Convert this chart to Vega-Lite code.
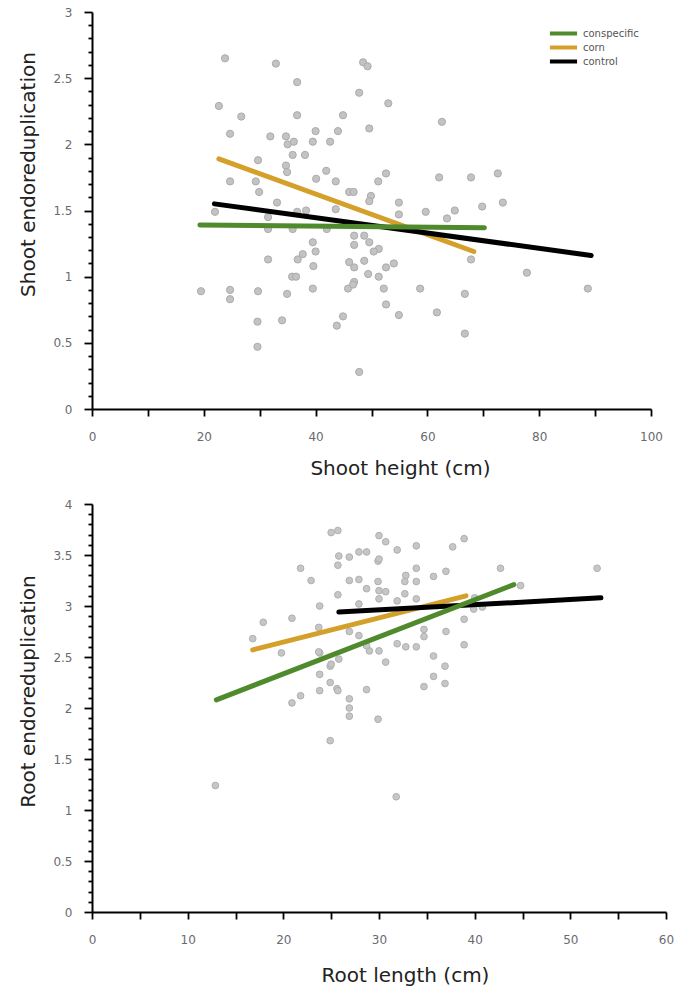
{
  "$schema": "https://vega.github.io/schema/vega-lite/v6.json",
  "padding": {"left": 18, "top": 6, "right": 5, "bottom": 5},
  "background": "white",
  "spacing": 20,
  "config": {
    "view": {"stroke": null},
    "axis": {
      "grid": false,
      "labelFont": "DejaVu Sans",
      "labelFontSize": 12,
      "labelColor": "#6a6a72",
      "titleFont": "DejaVu Sans",
      "titleFontSize": 20,
      "titleFontWeight": "normal",
      "titleColor": "#222222",
      "domainColor": "#000000",
      "domainWidth": 2,
      "tickColor": "#000000",
      "tickWidth": 1.8,
      "labelOverlap": false,
      "labelFlush": false
    }
  },
  "datasets": {
    "shoot_pts": [
      {"height": 23.8, "endo": 2.65}, {"height": 32.9, "endo": 2.61}, {"height": 36.7, "endo": 2.47},
      {"height": 22.7, "endo": 2.29}, {"height": 26.7, "endo": 2.21}, {"height": 36.7, "endo": 2.22},
      {"height": 24.7, "endo": 2.08}, {"height": 31.9, "endo": 2.06}, {"height": 34.7, "endo": 2.06},
      {"height": 35.0, "endo": 2.0}, {"height": 36.1, "endo": 2.02}, {"height": 40.0, "endo": 2.1},
      {"height": 39.5, "endo": 2.02}, {"height": 42.6, "endo": 2.02}, {"height": 44.9, "endo": 2.22},
      {"height": 44.0, "endo": 2.1}, {"height": 38.1, "endo": 1.92}, {"height": 35.9, "endo": 1.92},
      {"height": 29.7, "endo": 1.88}, {"height": 34.7, "endo": 1.84}, {"height": 34.9, "endo": 1.79},
      {"height": 41.9, "endo": 1.8}, {"height": 24.7, "endo": 1.72}, {"height": 29.3, "endo": 1.72},
      {"height": 29.9, "endo": 1.64}, {"height": 40.1, "endo": 1.74}, {"height": 43.6, "endo": 1.72},
      {"height": 33.1, "endo": 1.56}, {"height": 22.0, "endo": 1.49}, {"height": 31.5, "endo": 1.45},
      {"height": 36.7, "endo": 1.49}, {"height": 38.3, "endo": 1.5}, {"height": 43.6, "endo": 1.51},
      {"height": 31.5, "endo": 1.36}, {"height": 35.9, "endo": 1.36}, {"height": 42.0, "endo": 1.36},
      {"height": 39.5, "endo": 1.26}, {"height": 40.0, "endo": 1.19}, {"height": 36.8, "endo": 1.13},
      {"height": 37.7, "endo": 1.17}, {"height": 31.5, "endo": 1.13}, {"height": 39.6, "endo": 1.08},
      {"height": 35.8, "endo": 1.0}, {"height": 36.5, "endo": 1.0}, {"height": 19.5, "endo": 0.89},
      {"height": 24.7, "endo": 0.9}, {"height": 24.7, "endo": 0.83}, {"height": 29.7, "endo": 0.89},
      {"height": 34.9, "endo": 0.87}, {"height": 39.5, "endo": 0.91}, {"height": 29.6, "endo": 0.66},
      {"height": 34.0, "endo": 0.67}, {"height": 43.8, "endo": 0.63}, {"height": 44.9, "endo": 0.7},
      {"height": 29.6, "endo": 0.47}, {"height": 48.5, "endo": 2.62}, {"height": 49.3, "endo": 2.59},
      {"height": 47.8, "endo": 2.39}, {"height": 53.0, "endo": 2.31}, {"height": 49.6, "endo": 2.12},
      {"height": 62.6, "endo": 2.17}, {"height": 52.6, "endo": 1.78}, {"height": 51.2, "endo": 1.72},
      {"height": 62.1, "endo": 1.75}, {"height": 67.8, "endo": 1.75}, {"height": 72.6, "endo": 1.78},
      {"height": 46.0, "endo": 1.64}, {"height": 46.8, "endo": 1.64}, {"height": 49.9, "endo": 1.61},
      {"height": 49.6, "endo": 1.57}, {"height": 54.9, "endo": 1.56}, {"height": 54.9, "endo": 1.47},
      {"height": 59.7, "endo": 1.49}, {"height": 64.9, "endo": 1.5}, {"height": 63.5, "endo": 1.44},
      {"height": 69.8, "endo": 1.53}, {"height": 73.5, "endo": 1.56}, {"height": 46.9, "endo": 1.31},
      {"height": 46.9, "endo": 1.24}, {"height": 48.7, "endo": 1.31}, {"height": 49.6, "endo": 1.26},
      {"height": 51.3, "endo": 1.21}, {"height": 50.4, "endo": 1.19}, {"height": 46.0, "endo": 1.11},
      {"height": 46.9, "endo": 1.07}, {"height": 48.7, "endo": 1.12}, {"height": 52.6, "endo": 1.07},
      {"height": 54.0, "endo": 1.1}, {"height": 49.4, "endo": 1.02}, {"height": 51.3, "endo": 1.0},
      {"height": 46.9, "endo": 0.96}, {"height": 45.8, "endo": 0.91}, {"height": 46.7, "endo": 0.94},
      {"height": 52.2, "endo": 0.91}, {"height": 58.7, "endo": 0.91}, {"height": 67.8, "endo": 1.13},
      {"height": 77.8, "endo": 1.03}, {"height": 88.7, "endo": 0.91}, {"height": 66.7, "endo": 0.87},
      {"height": 52.6, "endo": 0.79}, {"height": 54.9, "endo": 0.71}, {"height": 61.7, "endo": 0.73},
      {"height": 66.7, "endo": 0.57}, {"height": 47.8, "endo": 0.28}
    ],
    "shoot_fit": [
      {"group": "corn", "x": 22.7, "y": 1.89}, {"group": "corn", "x": 68.3, "y": 1.19},
      {"group": "control", "x": 21.9, "y": 1.55}, {"group": "control", "x": 89.3, "y": 1.16},
      {"group": "conspecific", "x": 19.3, "y": 1.39}, {"group": "conspecific", "x": 70.2, "y": 1.37}
    ],
    "root_pts": [
      {"length": 12.9, "endo": 1.24}, {"length": 16.8, "endo": 2.68}, {"length": 17.9, "endo": 2.84},
      {"length": 19.8, "endo": 2.54}, {"length": 20.9, "endo": 2.88}, {"length": 21.8, "endo": 3.37},
      {"length": 22.9, "endo": 3.25}, {"length": 23.8, "endo": 3.0}, {"length": 20.9, "endo": 2.05},
      {"length": 21.8, "endo": 2.12}, {"length": 23.8, "endo": 2.54}, {"length": 23.8, "endo": 2.33},
      {"length": 24.9, "endo": 2.41}, {"length": 23.8, "endo": 2.17}, {"length": 24.9, "endo": 2.25},
      {"length": 24.9, "endo": 1.68}, {"length": 25.0, "endo": 3.72}, {"length": 25.7, "endo": 3.74},
      {"length": 25.8, "endo": 3.49}, {"length": 25.7, "endo": 3.4}, {"length": 26.9, "endo": 3.48},
      {"length": 26.9, "endo": 3.25}, {"length": 25.7, "endo": 3.11}, {"length": 23.7, "endo": 2.79},
      {"length": 25.6, "endo": 2.19}, {"length": 30.0, "endo": 3.69}, {"length": 30.7, "endo": 3.63},
      {"length": 33.9, "endo": 3.59}, {"length": 31.9, "endo": 3.55}, {"length": 37.7, "endo": 3.58},
      {"length": 38.9, "endo": 3.66}, {"length": 27.9, "endo": 3.53}, {"length": 28.7, "endo": 3.53},
      {"length": 29.9, "endo": 3.44}, {"length": 33.9, "endo": 3.37}, {"length": 37.0, "endo": 3.34},
      {"length": 35.7, "endo": 3.29}, {"length": 32.8, "endo": 3.3}, {"length": 32.7, "endo": 3.24},
      {"length": 33.9, "endo": 3.24}, {"length": 27.9, "endo": 3.26}, {"length": 29.9, "endo": 3.24},
      {"length": 28.7, "endo": 3.17}, {"length": 30.0, "endo": 3.15}, {"length": 30.7, "endo": 3.14},
      {"length": 30.0, "endo": 3.07}, {"length": 32.7, "endo": 3.12}, {"length": 33.9, "endo": 3.07},
      {"length": 27.9, "endo": 3.02}, {"length": 31.9, "endo": 3.05}, {"length": 38.9, "endo": 2.87},
      {"length": 37.0, "endo": 2.75}, {"length": 34.7, "endo": 2.77}, {"length": 34.7, "endo": 2.7},
      {"length": 26.9, "endo": 2.75}, {"length": 27.9, "endo": 2.71}, {"length": 31.9, "endo": 2.63},
      {"length": 32.8, "endo": 2.6}, {"length": 33.9, "endo": 2.6}, {"length": 29.0, "endo": 2.56},
      {"length": 30.0, "endo": 2.56}, {"length": 28.7, "endo": 2.61}, {"length": 38.9, "endo": 2.62},
      {"length": 35.7, "endo": 2.51}, {"length": 30.7, "endo": 2.45}, {"length": 25.0, "endo": 2.43},
      {"length": 25.8, "endo": 2.48}, {"length": 36.9, "endo": 2.41}, {"length": 35.7, "endo": 2.31},
      {"length": 34.7, "endo": 2.21}, {"length": 36.9, "endo": 2.24}, {"length": 25.7, "endo": 2.17},
      {"length": 28.7, "endo": 2.18}, {"length": 26.9, "endo": 2.09}, {"length": 26.9, "endo": 2.0},
      {"length": 26.9, "endo": 1.92}, {"length": 29.9, "endo": 1.89}, {"length": 31.8, "endo": 1.13},
      {"length": 42.7, "endo": 3.37}, {"length": 52.8, "endo": 3.37}, {"length": 44.8, "endo": 3.2},
      {"length": 40.8, "endo": 2.99}, {"length": 39.9, "endo": 2.97}, {"length": 23.7, "endo": 2.55},
      {"length": 30.0, "endo": 3.46}, {"length": 40.0, "endo": 3.08}
    ],
    "root_fit": [
      {"group": "corn", "x": 16.8, "y": 2.57}, {"group": "corn", "x": 39.1, "y": 3.1},
      {"group": "control", "x": 25.8, "y": 2.94}, {"group": "control", "x": 53.2, "y": 3.08},
      {"group": "conspecific", "x": 13.0, "y": 2.08}, {"group": "conspecific", "x": 44.1, "y": 3.21}
    ]
  },
  "resolve": {"scale": {"color": "independent"}, "legend": {"color": "independent"}},
  "vconcat": [
    {
      "width": 559,
      "height": 397,
      "encoding": {
        "x": {
          "type": "quantitative", "title": "Shoot height (cm)",
          "scale": {"domain": [0, 100], "nice": false},
          "axis": {
            "values": [0, 10, 20, 30, 40, 50, 60, 70, 80, 90, 100],
            "labelExpr": "datum.value % 20 == 0 ? datum.label : ''",
            "labelOverlap": false,
            "tickSize": 7, "labelPadding": 15, "titlePadding": 16, "titleX": 308
          }
        },
        "y": {
          "type": "quantitative", "title": "Shoot endoreduplication",
          "scale": {"domain": [0, 3], "nice": false},
          "axis": {
            "values": [0, 0.1, 0.2, 0.3, 0.4, 0.5, 0.6, 0.7, 0.8, 0.9, 1, 1.1, 1.2, 1.3, 1.4, 1.5, 1.6, 1.7, 1.8, 1.9, 2, 2.1, 2.2, 2.3, 2.4, 2.5, 2.6, 2.7, 2.8, 2.9, 3],
            "labelExpr": "abs(datum.value*2 - round(datum.value*2)) < 0.01 ? toString(round(datum.value*2)/2) : ''",
            "labelOverlap": false,
            "tickSize": {"condition": {"test": "abs(datum.value*2 - round(datum.value*2)) < 0.01", "value": 8}, "value": 4},
            "labelPadding": 12, "titlePadding": 14, "titleY": 162
          }
        }
      },
      "layer": [
        {
          "data": {"name": "shoot_pts"},
          "mark": {"type": "circle", "size": 52, "color": "#c3c3c3", "opacity": 1, "stroke": "#ababab", "strokeWidth": 1},
          "encoding": {
            "x": {"field": "height"},
            "y": {"field": "endo"}
          }
        },
        {
          "data": {"name": "shoot_fit"},
          "mark": {"type": "line", "strokeWidth": 5, "strokeCap": "round"},
          "encoding": {
            "x": {"field": "x"},
            "y": {"field": "y"},
            "color": {
              "field": "group", "type": "nominal",
              "scale": {"domain": ["conspecific", "corn", "control"], "range": ["#4f8a2c", "#d4a02a", "#000000"]},
              "legend": {
                "orient": "none", "legendX": 466, "legendY": 16, "title": null,
                "symbolType": "M-4,0H4", "symbolStrokeWidth": 4, "symbolSize": 46,
                "labelFont": "DejaVu Sans", "labelFontSize": 10, "labelColor": "#555555",
                "rowPadding": -3, "padding": 0, "labelOffset": 14
              }
            }
          }
        }
      ]
    },
    {
      "width": 574,
      "height": 408,
      "encoding": {
        "x": {
          "type": "quantitative", "title": "Root length  (cm)",
          "scale": {"domain": [0, 60], "nice": false},
          "axis": {
            "values": [0, 5, 10, 15, 20, 25, 30, 35, 40, 45, 50, 55, 60],
            "labelExpr": "datum.value % 10 == 0 ? datum.label : ''",
            "labelOverlap": false,
            "tickSize": 7, "labelPadding": 15, "titlePadding": 20, "titleX": 313
          }
        },
        "y": {
          "type": "quantitative", "title": "Root endoreduplication",
          "scale": {"domain": [0, 4], "nice": false},
          "axis": {
            "values": [0, 0.1, 0.2, 0.3, 0.4, 0.5, 0.6, 0.7, 0.8, 0.9, 1, 1.1, 1.2, 1.3, 1.4, 1.5, 1.6, 1.7, 1.8, 1.9, 2, 2.1, 2.2, 2.3, 2.4, 2.5, 2.6, 2.7, 2.8, 2.9, 3, 3.1, 3.2, 3.3, 3.4, 3.5, 3.6, 3.7, 3.8, 3.9, 4],
            "labelExpr": "abs(datum.value*2 - round(datum.value*2)) < 0.01 ? toString(round(datum.value*2)/2) : ''",
            "labelOverlap": false,
            "tickSize": {"condition": {"test": "abs(datum.value*2 - round(datum.value*2)) < 0.01", "value": 8}, "value": 4},
            "labelPadding": 12, "titlePadding": 14, "titleY": 187
          }
        }
      },
      "layer": [
        {
          "data": {"name": "root_pts"},
          "mark": {"type": "circle", "size": 45, "color": "#c6c6c6", "opacity": 1, "stroke": "#b0b0b0", "strokeWidth": 1},
          "encoding": {
            "x": {"field": "length"},
            "y": {"field": "endo"}
          }
        },
        {
          "data": {"name": "root_fit"},
          "mark": {"type": "line", "strokeWidth": 5, "strokeCap": "round"},
          "encoding": {
            "x": {"field": "x"},
            "y": {"field": "y"},
            "color": {
              "field": "group", "type": "nominal",
              "scale": {"domain": ["conspecific", "corn", "control"], "range": ["#4f8a2c", "#d4a02a", "#000000"]},
              "legend": null
            }
          }
        }
      ]
    }
  ]
}
